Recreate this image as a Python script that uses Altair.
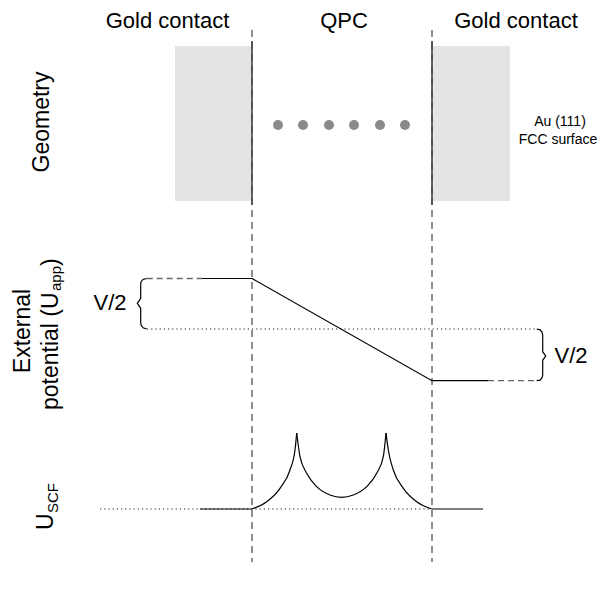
import altair as alt
import pandas as pd

# ---------------- data (page-pixel coordinates of the schematic) ----------------
header_text = ["Gold contact", "QPC", "Gold contact"]
header_x = [167.5, 344, 516]
header_y = [28, 28, 28]

boundary_x = [252, 432]
boundary_top = [30, 30]
boundary_bottom = [562, 562]

contact_x1 = [175, 432]
contact_x2 = [252, 510]
contact_y1 = [46, 46]
contact_y2 = [201, 201]

interface_x = [252, 432]
interface_y1 = [41, 41]
interface_y2 = [205, 205]

atom_x = [278, 303, 329, 354, 380, 405]
atom_y = [125, 125, 125, 125, 125, 125]

# external potential panel
pot_solid_x = [202, 252, 432, 488]
pot_solid_y = [278.5, 278.5, 380.7, 380.7]
pot_dash_left_x = [146.7, 202]
pot_dash_left_y = [278.5, 278.5]
pot_dash_right_x = [488, 537]
pot_dash_right_y = [380.7, 380.7]
pot_ref_x = [147, 537]
pot_ref_y = [329, 329]
brace_left_x = [146.7, 143, 141, 140.7, 140.7, 137.3, 140.7, 140.7, 141, 143, 146.7]
brace_left_y = [278.5, 279.5, 282, 285, 298.3, 303.3, 308.3, 321.7, 325, 327.8, 329]
brace_right_x = [536.7, 540, 542, 542.7, 542.7, 545.7, 542.7, 542.7, 542, 540, 536.7]
brace_right_y = [329, 329.8, 332, 335, 351.7, 356, 360.3, 375, 378, 380.2, 380.7]

# self-consistent potential panel
scf_ref_x = [100, 432]
scf_ref_y = [509, 509]
scf_left_x = [200, 252]
scf_left_y = [509, 509]
scf_right_x = [432, 483]
scf_right_y = [509, 509]
scf_rise_x = [252, 266.7, 280, 290, 295, 296.7]
scf_rise_y = [509, 501.7, 488.3, 470, 450, 433]
scf_mid_x = [296.7, 300, 306.7, 316.7, 330, 341.7, 353.3, 366.7, 376.7, 383.3, 386]
scf_mid_y = [433, 456.7, 473.3, 486.7, 495, 497.3, 495, 486.7, 473.3, 456.7, 433]
scf_fall_x = [386, 388.3, 393.3, 403.3, 416.7, 431.7]
scf_fall_y = [433, 450, 470, 488.3, 501.7, 509]

# ---------------- helpers ----------------
X = alt.Scale(domain=[8, 597], nice=False, zero=False)
Y = alt.Scale(domain=[8, 583], nice=False, zero=False, reverse=True)


def path_df(pieces):
    rows = []
    for name, xs, ys in pieces:
        for i, (a, b) in enumerate(zip(xs, ys)):
            rows.append({"seg": name, "i": i, "x": a, "y": b})
    return pd.DataFrame(rows)


def line_layer(pieces, color, width, dash=None, interp="linear"):
    kw = dict(color=color, strokeWidth=width, interpolate=interp, clip=False)
    if dash:
        kw["strokeDash"] = dash
    return alt.Chart(path_df(pieces)).mark_line(**kw).encode(
        x=alt.X("x:Q", scale=X, axis=None),
        y=alt.Y("y:Q", scale=Y, axis=None),
        detail="seg:N",
        order="i:Q",
    )


def text_layer(rows, size, angle=0, align="center", baseline="alphabetic"):
    df = pd.DataFrame(rows, columns=["x", "y", "t"])
    return alt.Chart(df).mark_text(
        font="Liberation Sans", fontSize=size, angle=angle, align=align,
        baseline=baseline, color="black"
    ).encode(
        x=alt.X("x:Q", scale=X, axis=None),
        y=alt.Y("y:Q", scale=Y, axis=None),
        text="t:N",
    )


# ---------------- layers ----------------
contacts = alt.Chart(pd.DataFrame({
    "x": contact_x1, "x2": contact_x2, "y": contact_y1, "y2": contact_y2
})).mark_rect(color="#e4e4e4").encode(
    x=alt.X("x:Q", scale=X, axis=None), x2="x2:Q",
    y=alt.Y("y:Q", scale=Y, axis=None), y2="y2:Q",
)

boundaries = alt.Chart(pd.DataFrame({
    "x": boundary_x, "y": boundary_top, "y2": boundary_bottom
})).mark_rule(color="#555555", strokeWidth=1.3, strokeDash=[7, 5]).encode(
    x=alt.X("x:Q", scale=X, axis=None),
    y=alt.Y("y:Q", scale=Y, axis=None), y2="y2:Q",
)

interfaces = alt.Chart(pd.DataFrame({
    "x": interface_x, "y": interface_y1, "y2": interface_y2
})).mark_rule(color="#444444", strokeWidth=1.6).encode(
    x=alt.X("x:Q", scale=X, axis=None),
    y=alt.Y("y:Q", scale=Y, axis=None), y2="y2:Q",
)

atoms = alt.Chart(pd.DataFrame({"x": atom_x, "y": atom_y})).mark_circle(
    color="#8a8a8a", opacity=1, size=100
).encode(
    x=alt.X("x:Q", scale=X, axis=None),
    y=alt.Y("y:Q", scale=Y, axis=None),
)

solid = line_layer([
    ("pot", pot_solid_x, pot_solid_y),
    ("bl", brace_left_x, brace_left_y),
    ("br", brace_right_x, brace_right_y),
    ("sl", scf_left_x, scf_left_y),
    ("sr", scf_right_x, scf_right_y),
], "black", 1.2)

dashed = line_layer([
    ("dl", pot_dash_left_x, pot_dash_left_y),
    ("dr", pot_dash_right_x, pot_dash_right_y),
], "#666666", 1.3, dash=[6, 4])

dotted = line_layer([
    ("pr", pot_ref_x, pot_ref_y),
    ("sr", scf_ref_x, scf_ref_y),
], "#222222", 1.1, dash=[1.2, 3])

curve = line_layer([
    ("c1", scf_rise_x, scf_rise_y),
    ("c2", scf_mid_x, scf_mid_y),
    ("c3", scf_fall_x, scf_fall_y),
], "black", 1.2, interp="monotone")

headers = text_layer(list(zip(header_x, header_y, header_text)), 22)
surface = text_layer([(560, 126, "Au (111)"), (558, 144, "FCC surface")], 14)
vhalf = text_layer([(110, 303, "V/2"), (571, 356, "V/2")], 22, baseline="middle")

side_center = text_layer([(49, 122, "Geometry"), (30, 331, "External")], 23, angle=270)
side_main = text_layer([(58, 410, "potential (U"), (58, 266, ")"), (53, 530, "U")], 23,
                       angle=270, align="left")
side_sub = text_layer([(61, 291, "app"), (58, 513, "SCF")], 15, angle=270, align="left")

chart = alt.layer(
    contacts, boundaries, interfaces, atoms, dotted, dashed, solid, curve,
    headers, surface, vhalf, side_center, side_main, side_sub,
).properties(
    width=589, height=575, autosize=alt.AutoSizeParams(type="none"), padding=0
).configure_view(stroke=None)

chart.save("out.html", embed_options={"renderer": "svg", "actions": False})
